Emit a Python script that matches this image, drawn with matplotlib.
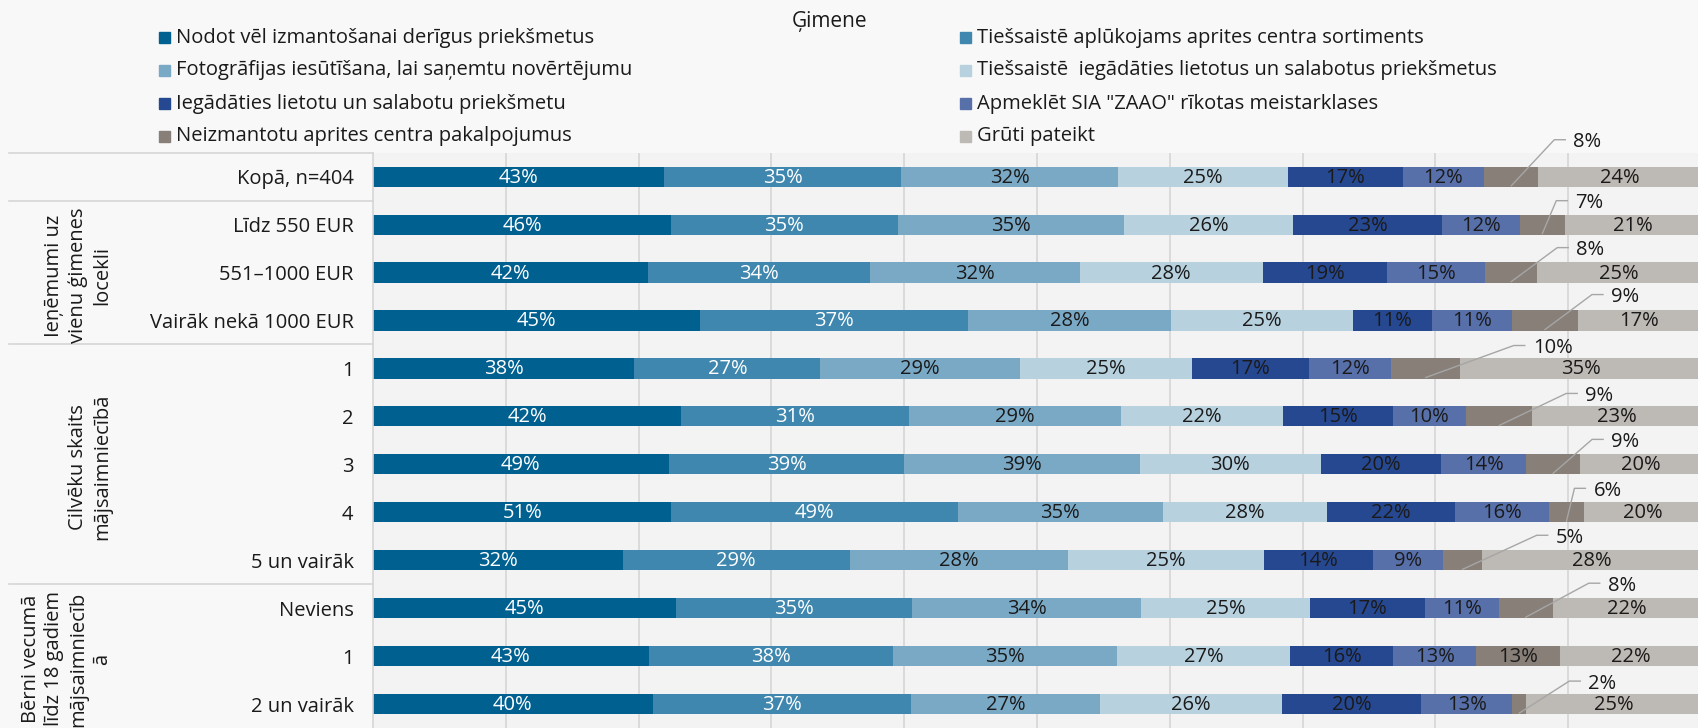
import numpy as np
import matplotlib.pyplot as plt
from matplotlib.patches import Rectangle
from matplotlib import transforms

plt.rcParams['font.family'] = ['Open Sans', 'DejaVu Sans']

# ==========================================================
# DATA
# ==========================================================

CATEGORIES = [
    "Kopā, n=404",
    "Līdz 550 EUR",
    "551–1000 EUR",
    "Vairāk nekā 1000 EUR",
    "1",
    "2",
    "3",
    "4",
    "5 un vairāk",
    "Neviens",
    "1",
    "2 un vairāk",
]

SERIES = [
    "Nodot vēl izmantošanai derīgus priekšmetus",
    "Tiešsaistē aplūkojams aprites centra sortiments",
    "Fotogrāfijas iesūtīšana, lai saņemtu novērtējumu",
    "Tiešsaistē  iegādāties lietotus un salabotus priekšmetus",
    "Iegādāties lietotu un salabotu priekšmetu",
    "Apmeklēt SIA \"ZAAO\" rīkotas meistarklases",
    "Neizmantotu aprites centra pakalpojumus",
    "Grūti pateikt",
]

nodot = [43, 46, 42, 45, 38, 42, 49, 51, 32, 45, 43, 40]
aplukojams = [35, 35, 34, 37, 27, 31, 39, 49, 29, 35, 38, 37]
foto = [32, 35, 32, 28, 29, 29, 39, 35, 28, 34, 35, 27]
iegadaties_online = [25, 26, 28, 25, 25, 22, 30, 28, 25, 25, 27, 26]
iegadaties = [17, 23, 19, 11, 17, 15, 20, 22, 14, 17, 16, 20]
meistarklases = [12, 12, 15, 11, 12, 10, 14, 16, 9, 11, 13, 13]
neizmantotu = [8, 7, 8, 9, 10, 9, 9, 6, 5, 8, 13, 2]
gruti = [24, 21, 25, 17, 35, 23, 20, 20, 28, 22, 22, 25]

VALUES = [nodot, aplukojams, foto, iegadaties_online,
          iegadaties, meistarklases, neizmantotu, gruti]

# group label text, first row, last row
GROUPS = [
    ("Ieņēmumi uz\nvienu ģimenes\nlocekli", 1, 3),
    ("Cilvēku skaits\nmājsaimniecībā", 4, 8),
    ("Bērni vecumā\nlīdz 18 gadiem\nmājsaimniecīb\nā", 9, 11),
]

# ==========================================================
# STYLE
# ==========================================================

COLORS = ["#006090", "#3f87ae", "#7aa9c6", "#b7d1de",
          "#264891", "#5870aa", "#877f78", "#bdb9b4"]
TEXT_COLORS = ["white", "white", "#1a1a1a", "#1a1a1a",
               "#1a1a1a", "#1a1a1a", "#1a1a1a", "#1a1a1a"]
BG = "#f8f8f8"
AX_BG = "#f3f3f3"
LINE = "#d6d6d6"
FS = 14.5

W_PX, H_PX = 1698, 728
AX_L, AX_R, AX_T = 373, 1701, 152.7
BAR_H = 0.42

# elbow of the leader line (px) from centre-bottom of the small segment,
# None = label inside the bar
CALLOUT_SERIES = 6
CALLOUTS = [(43, -47), (14, -34), (46, -35), (47, -36), (88, -33), (67, -33),
            (39, -35), (8, -34), (74, -35), (63, -35), None, (50, -33)]

# ==========================================================
# PLOT
# ==========================================================

fig = plt.figure(figsize=(W_PX / 100, H_PX / 100), dpi=100, facecolor=BG)
ax = fig.add_axes([AX_L / W_PX, 0, (AX_R - AX_L) / W_PX, (H_PX - AX_T) / H_PX])
ax.set_facecolor(AX_BG)

n = len(CATEGORIES)
y = np.arange(n)
px_x = AX_R - AX_L            # pixels per unit of x
px_y = (H_PX - AX_T) / n      # pixels per row

totals = np.sum(np.array(VALUES, dtype=float), axis=0)
left = np.zeros(n)

for i, vals in enumerate(VALUES):
    share = np.array(vals) / totals
    ax.barh(y, share, left=left, height=BAR_H, color=COLORS[i],
            label=SERIES[i], zorder=2)
    for j in range(n):
        xc = left[j] + share[j] / 2
        txt = f"{vals[j]}%"
        if i == CALLOUT_SERIES and CALLOUTS[j] is not None:
            ex, ey = CALLOUTS[j]
            yb = y[j] + BAR_H / 2
            x1 = xc + ex / px_x
            y1 = yb + ey / px_y
            x2 = x1 + 11 / px_x
            ax.plot([xc, x1, x2], [yb - 1 / px_y, y1, y1], color="#a6a6a6",
                    lw=1.0, clip_on=False, zorder=4)
            ax.text(x1 + 19 / px_x, y1 + 2.5 / px_y, txt, ha="left",
                    va="center", fontsize=FS, color="#1a1a1a", zorder=4)
        else:
            ax.text(xc, y[j] + 0.02, txt, ha="center", va="center",
                    fontsize=FS, color=TEXT_COLORS[i], zorder=3)
    left += share

ax.set_xlim(0, 1)
ax.set_ylim(n - 0.5, -0.5)
ax.set_xticks(np.arange(0.1, 1.01, 0.1))
ax.set_xticklabels([])
ax.grid(axis="x", color=LINE, lw=1.2, zorder=0)
ax.set_axisbelow(True)
ax.tick_params(axis="x", length=0)
ax.set_yticks(y, CATEGORIES)
ax.tick_params(axis="y", length=0, pad=14, labelsize=FS, labelcolor="#1a1a1a")
for side in ["top", "right", "bottom"]:
    ax.spines[side].set_visible(False)
ax.spines["left"].set_color(LINE)
ax.spines["left"].set_linewidth(1.2)

# table lines and group labels on the left
trans = transforms.blended_transform_factory(ax.transAxes, ax.transData)
x_table = (9 - AX_L) / px_x
for b in [-0.5, 0.5, 3.5, 8.5]:
    ax.plot([x_table, 0], [b, b], color=LINE, lw=1.2, transform=trans,
            clip_on=False)

for text, r0, r1 in GROUPS:
    ax.text((112 - AX_L) / px_x, (r0 + r1) / 2 + 0.06, text, transform=trans,
            rotation=90, ha="right", va="center", multialignment="center",
            linespacing=1.25, fontsize=FS, color="#1a1a1a")

# title and legend
fig.text(830 / W_PX, 1 - 21 / H_PX, "Ģimene", ha="center", va="center",
         fontsize=15, color="#1a1a1a")

for i, name in enumerate(SERIES):
    mx = [159, 960][i % 2]
    my = 37.5 + 33 * (i // 2)
    fig.add_artist(Rectangle((mx / W_PX, 1 - (my + 5.5) / H_PX), 11 / W_PX,
                             11 / H_PX, transform=fig.transFigure,
                             color=COLORS[i]))
    fig.text((mx + 17) / W_PX, 1 - my / H_PX, name, ha="left", va="center",
             fontsize=FS, color="#1a1a1a")

fig.savefig("out.png", dpi=100, facecolor=BG)
